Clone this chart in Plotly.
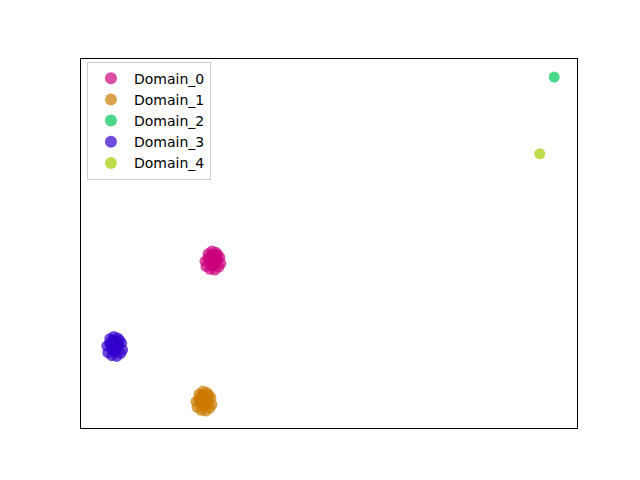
import plotly.graph_objects as go

names = ["Domain_0", "Domain_1", "Domain_2", "Domain_3", "Domain_4"]
colors = ["rgb(204,0,125)", "rgb(204,122,0)", "rgb(0,200,90)", "rgb(50,0,204)", "rgb(163,204,0)"]

d0_x = [2.50, 2.56, 2.64, 2.72, 2.80, 2.82, 2.52, 2.60, 2.70, 2.78, 2.56, 2.66, 2.74, 2.62, 2.68, 2.58, 2.76, 2.66,
        2.64, 2.70, 2.60, 2.72, 2.66, 2.62]
d0_y = [4.52, 4.72, 4.80, 4.76, 4.62, 4.46, 4.38, 4.30, 4.28, 4.36, 4.60, 4.66, 4.54, 4.44, 4.50, 4.56, 4.70, 4.58,
        4.64, 4.46, 4.50, 4.60, 4.40, 4.70]
d1_x = [2.32, 2.38, 2.46, 2.54, 2.62, 2.64, 2.34, 2.42, 2.52, 2.60, 2.38, 2.48, 2.56, 2.44, 2.50, 2.40, 2.58, 2.48,
        2.46, 2.52, 2.42, 2.54, 2.48, 2.44]
d1_y = [0.72, 0.92, 1.00, 0.96, 0.82, 0.64, 0.56, 0.48, 0.46, 0.54, 0.80, 0.86, 0.74, 0.62, 0.68, 0.74, 0.90, 0.76,
        0.84, 0.66, 0.70, 0.80, 0.60, 0.90]
d2_x = [9.54]
d2_y = [9.51]
d3_x = [0.52, 0.58, 0.66, 0.74, 0.82, 0.84, 0.54, 0.62, 0.72, 0.80, 0.58, 0.68, 0.76, 0.64, 0.70, 0.60, 0.78, 0.68,
        0.66, 0.72, 0.62, 0.74, 0.68, 0.64]
d3_y = [2.22, 2.42, 2.48, 2.44, 2.30, 2.12, 2.04, 1.96, 1.94, 2.02, 2.30, 2.36, 2.24, 2.12, 2.18, 2.26, 2.38, 2.20,
        2.32, 2.14, 2.18, 2.28, 2.08, 2.38]
d4_x = [9.25]
d4_y = [7.43]

xs = [d0_x, d1_x, d2_x, d3_x, d4_x]
ys = [d0_y, d1_y, d2_y, d3_y, d4_y]

fig = go.Figure()
for n, c, x, y in zip(names, colors, xs, ys):
    fig.add_trace(go.Scatter(x=x, y=y, mode="markers", name=n,
                             marker=dict(color=c, size=11, opacity=0.7, line=dict(width=0))))

fig.update_layout(
    width=640, height=480,
    margin=dict(l=73, r=71, t=51, b=60),
    paper_bgcolor="white", plot_bgcolor="white",
    font=dict(family="DejaVu Sans", size=13, color="black"),
    showlegend=True,
    legend=dict(x=0.012, y=0.993, xanchor="left", yanchor="top",
                bordercolor="#cccccc", borderwidth=1, bgcolor="rgba(255,255,255,0.8)",
                font=dict(size=14), tracegroupgap=0, itemsizing="constant", itemwidth=36),
    xaxis=dict(range=[0, 10], showticklabels=False, ticks="", showgrid=False, zeroline=False,
               showline=True, linecolor="black", linewidth=1, mirror=True),
    yaxis=dict(range=[0, 10], showticklabels=False, ticks="", showgrid=False, zeroline=False,
               showline=True, linecolor="black", linewidth=1, mirror=True),
)

fig.write_html("out.html")
